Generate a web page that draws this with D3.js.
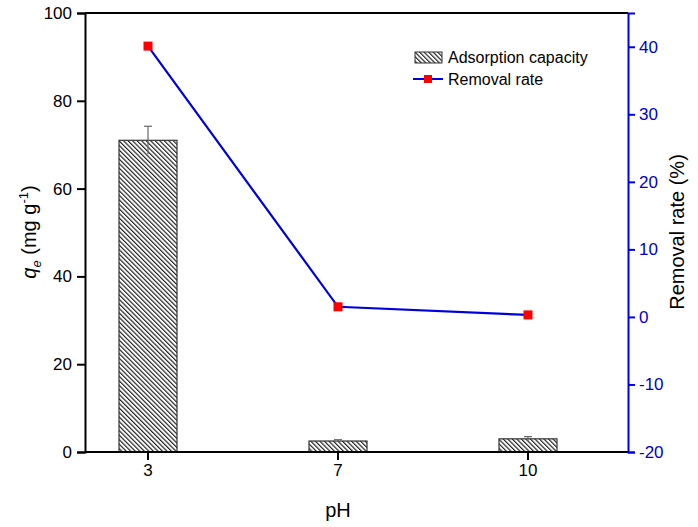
<!DOCTYPE html>
<html>
<head>
<meta charset="utf-8">
<script src="https://cdn.jsdelivr.net/npm/d3@7"></script>
<style>
body { margin: 0; background: #fff; }
text { font-family: "Liberation Sans", Arial, sans-serif; }
</style>
</head>
<body>
<div id="container"></div>
<script>
// Data
var phLabels = ["3", "7", "10"];          // x categories
var capacity = [71, 2.5, 3.0];            // qe (mg g-1), bars
var capacityErr = [3.2, 0.3, 0.5];        // error bars
var removal = [40.1, 1.5, 0.3];           // removal rate (%)
var leftTicks = [0, 20, 40, 60, 80, 100];
var rightTicks = [-20, -10, 0, 10, 20, 30, 40];

var w = 698, h = 527;
var pLeft = 85, pRight = 628, pTop = 13, pBottom = 452;
var plain = function(d) { return String(d); };  // hyphen minus like the original

var svg = d3.select("#container").append("svg")
	.attr("width", w)
	.attr("height", h);

// Hatch pattern (\\\\)
var pat = svg.append("defs").append("pattern")
	.attr("id", "hatch")
	.attr("patternUnits", "userSpaceOnUse")
	.attr("width", 3.2).attr("height", 3.2)
	.attr("patternTransform", "rotate(-45)");
pat.append("rect").attr("width", 3.2).attr("height", 3.2).attr("fill", "#fff");
pat.append("line")
	.attr("x1", 0.6).attr("y1", 0).attr("x2", 0.6).attr("y2", 3.2)
	.attr("stroke", "#111").attr("stroke-width", 1.1);

// Scales
var x = d3.scaleBand().domain(phLabels).range([53, 623]);
var y = d3.scaleLinear().domain([0, 100]).range([pBottom, pTop]);
var y2 = d3.scaleLinear().domain([-20, 45]).range([pBottom, pTop]);
var barW = 58;
var cx = function(i) { return x(phLabels[i]) + x.bandwidth() / 2; };

// Bars
svg.selectAll("rect.bar")
	.data(capacity)
	.enter()
	.append("rect")
	.attr("class", "bar")
	.attr("x", function(d, i) { return cx(i) - barW / 2; })
	.attr("y", function(d) { return y(d); })
	.attr("width", barW)
	.attr("height", function(d) { return pBottom - y(d); })
	.attr("fill", "url(#hatch)")
	.attr("stroke", "#333")
	.attr("stroke-width", 1.2);

// Error bars
var eb = svg.selectAll("g.err")
	.data(capacity)
	.enter()
	.append("g")
	.attr("stroke", "#666")
	.attr("stroke-width", 1.2);
eb.append("line")
	.attr("x1", function(d, i) { return cx(i); })
	.attr("x2", function(d, i) { return cx(i); })
	.attr("y1", function(d, i) { return y(d - capacityErr[i]); })
	.attr("y2", function(d, i) { return y(d + capacityErr[i]); });
eb.append("line")
	.attr("x1", function(d, i) { return cx(i) - 4; })
	.attr("x2", function(d, i) { return cx(i) + 4; })
	.attr("y1", function(d, i) { return y(d + capacityErr[i]); })
	.attr("y2", function(d, i) { return y(d + capacityErr[i]); });

// Top frame line
svg.append("line")
	.attr("x1", pLeft).attr("x2", pRight)
	.attr("y1", pTop).attr("y2", pTop)
	.attr("stroke", "#000").attr("stroke-width", 2);

// Left axis
var gl = svg.append("g")
	.attr("transform", "translate(" + pLeft + ",0)")
	.call(d3.axisLeft(y).tickValues(leftTicks).tickFormat(plain).tickSize(8).tickPadding(5));
gl.select(".domain").attr("stroke-width", 2);
gl.selectAll(".tick line").attr("stroke-width", 2);
gl.selectAll("text").style("font-size", "17px").attr("fill", "#000");

// Right axis
var gr = svg.append("g")
	.attr("transform", "translate(" + pRight + ",0)")
	.call(d3.axisRight(y2).tickValues(rightTicks).tickFormat(plain).tickSize(7).tickPadding(4));
gr.select(".domain").attr("stroke", "#0000ee").attr("stroke-width", 2);
gr.selectAll(".tick line").attr("stroke", "#0000ee").attr("stroke-width", 2);
gr.selectAll("text").style("font-size", "17px").attr("fill", "#0000cc");

// Bottom axis
var gb = svg.append("g")
	.attr("transform", "translate(0," + pBottom + ")")
	.call(d3.axisBottom(x).tickSize(8).tickPadding(4));
gb.select(".domain").attr("d", "M" + pLeft + ",0H" + pRight).attr("stroke-width", 2);
gb.selectAll(".tick line").attr("stroke-width", 2);
gb.selectAll("text").style("font-size", "17px").attr("fill", "#000");

// Removal rate line
var line = d3.line()
	.x(function(d, i) { return cx(i); })
	.y(function(d) { return y2(d); });
svg.append("path")
	.datum(removal)
	.attr("d", line)
	.attr("fill", "none")
	.attr("stroke", "#0000dd")
	.attr("stroke-width", 2.2);
svg.selectAll("rect.pt")
	.data(removal)
	.enter()
	.append("rect")
	.attr("class", "pt")
	.attr("x", function(d, i) { return cx(i) - 4.5; })
	.attr("y", function(d) { return y2(d) - 4.5; })
	.attr("width", 9).attr("height", 9)
	.attr("fill", "#ff0000");

// Axis titles
svg.append("text")
	.attr("x", 338).attr("y", 517)
	.attr("text-anchor", "middle")
	.style("font-size", "20px")
	.text("pH");

var yt = svg.append("text")
	.attr("transform", "translate(36,232) rotate(-90)")
	.attr("text-anchor", "middle")
	.style("font-size", "20px");
yt.append("tspan").style("font-style", "italic").text("q");
yt.append("tspan").attr("dy", 5).style("font-size", "13px").style("font-style", "italic").text("e");
yt.append("tspan").attr("dy", -5).text(" (mg g");
yt.append("tspan").attr("dy", -8).style("font-size", "13px").text("-1");
yt.append("tspan").attr("dy", 8).text(")");

svg.append("text")
	.attr("transform", "translate(684,232) rotate(-90)")
	.attr("text-anchor", "middle")
	.style("font-size", "20px")
	.text("Removal rate (%)");

// Legend
svg.append("rect")
	.attr("x", 415).attr("y", 52)
	.attr("width", 27).attr("height", 11)
	.attr("fill", "url(#hatch)")
	.attr("stroke", "#333");
svg.append("text")
	.attr("x", 448).attr("y", 63)
	.style("font-size", "16px")
	.text("Adsorption capacity");
svg.append("line")
	.attr("x1", 413).attr("x2", 443)
	.attr("y1", 79).attr("y2", 79)
	.attr("stroke", "#0000dd").attr("stroke-width", 2);
svg.append("rect")
	.attr("x", 424).attr("y", 75)
	.attr("width", 8).attr("height", 8)
	.attr("fill", "#ff0000");
svg.append("text")
	.attr("x", 448).attr("y", 85)
	.style("font-size", "16px")
	.text("Removal rate");
</script>
</body>
</html>
